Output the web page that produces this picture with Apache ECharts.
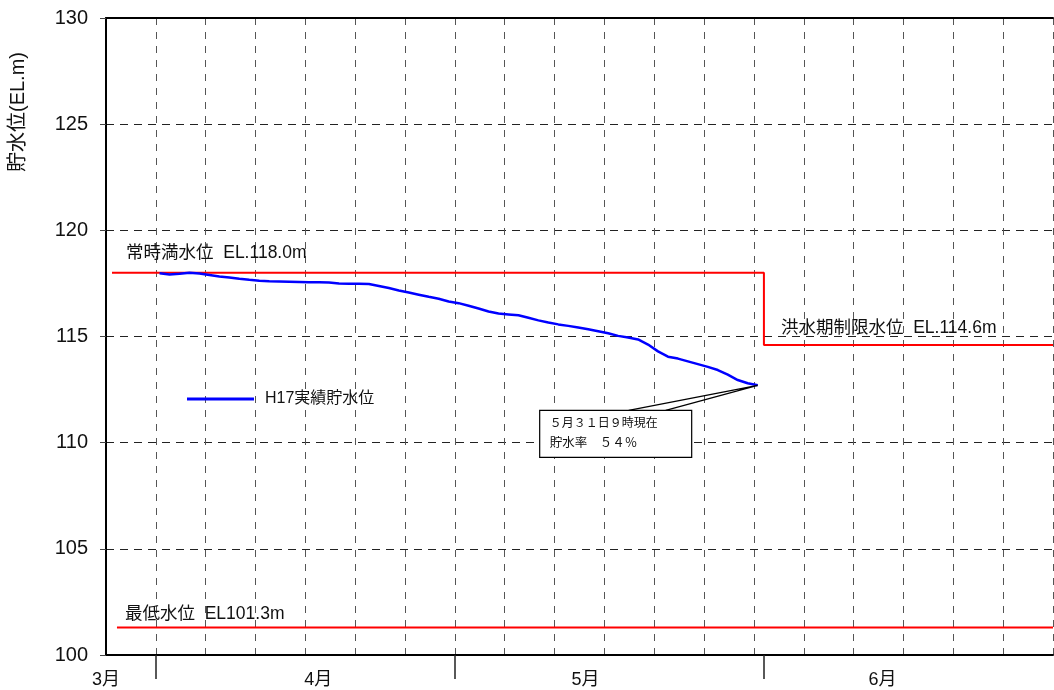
<!DOCTYPE html>
<html><head><meta charset="utf-8">
<script src="https://cdn.jsdelivr.net/npm/echarts@6/dist/echarts.min.js"></script>
<style>html,body{margin:0;padding:0;background:#fff}#c{width:1054px;height:690px}</style>
</head><body><div id="c"></div>
<script>
// x unit: days counted from 27 Mar 00:00 (day 5 = 1 Apr, day 35 = 1 May, day 66 = 1 Jun)
const monthNames = ['3月', '4月', '5月', '6月'];
const monthLabelDays = [0, 21.3, 48.1, 77.9];
const monthStartDays = [5, 35, 66];
const xRange = [0, 95];
const yTicks = [100, 105, 110, 115, 120, 125, 130];

// H17 actual reservoir level, daily at 09:00 from 1 Apr to 31 May
const levelStartDay = 5.375;
const levels = [
  117.98, 117.92, 117.95, 118.00, 117.97, 117.90, 117.83, 117.78, 117.72, 117.67,
  117.63, 117.60, 117.59, 117.58, 117.57, 117.56, 117.55, 117.54, 117.50, 117.49,
  117.48, 117.47, 117.38, 117.28, 117.17, 117.07, 116.97, 116.87, 116.78, 116.65,
  116.57, 116.45, 116.32, 116.18, 116.08, 116.04, 116.00, 115.88, 115.76, 115.66,
  115.57, 115.50, 115.42, 115.34, 115.25, 115.15, 115.03, 114.95, 114.86, 114.62,
  114.30, 114.05, 113.96, 113.83, 113.70, 113.57, 113.42, 113.20, 112.95, 112.80,
  112.70
];

const normalFullLevel = 118.0;
const floodLimitLevel = 114.6;
const minimumLevel = 101.3;
const normalStartDay = 0.6;
const floodStartDay = 66;
const minimumStartDay = 1.1;

const seriesName = 'H17実績貯水位';
const labelNormal = '常時満水位  EL.118.0m';
const labelFlood = '洪水期制限水位  EL.114.6m';
const labelMinimum = '最低水位  EL101.3m';
const noteLine1 = '５月３１日９時現在';
const noteLine2 = '貯水率　５４％';
const yName = '貯水位(EL.m)';

const FONT = '"Liberation Sans", Arial, "Noto Sans CJK JP", sans-serif';
const chart = echarts.init(document.getElementById('c'));

const levelData = levels.map((v, i) => [levelStartDay + i, v]);
const redStep = [[normalStartDay, normalFullLevel], [floodStartDay, normalFullLevel],
                 [floodStartDay, floodLimitLevel], [xRange[1], floodLimitLevel]];
const redMin = [[minimumStartDay, minimumLevel], [xRange[1], minimumLevel]];

chart.setOption({
  animation: false,
  backgroundColor: '#fff',
  textStyle: {fontFamily: FONT},
  grid: {left: 106, top: 18, width: 947, height: 637, containLabel: false, outerBoundsMode: 'none'},
  legend: {
    data: [seriesName], left: 182, top: 386, icon: 'rect', itemWidth: 67, itemHeight: 3,
    textStyle: {fontSize: 16, color: '#111', fontFamily: FONT, padding: [0, 0, 0, 6]}
  },
  xAxis: [
    {type: 'value', min: xRange[0], max: xRange[1], interval: 5, position: 'bottom',
     axisLine: {show: true, onZero: false, lineStyle: {color: '#000', width: 2}},
     axisTick: {show: false}, axisLabel: {show: false},
     splitLine: {show: true, lineStyle: {color: '#555', width: 1, type: [7, 7]}}},
    {type: 'value', min: xRange[0], max: xRange[1], position: 'bottom',
     axisLine: {show: false}, splitLine: {show: false},
     axisTick: {show: true, customValues: monthStartDays, length: 24, lineStyle: {color: '#222', width: 1.5}},
     axisLabel: {show: true, customValues: monthLabelDays, margin: 16, fontSize: 18, color: '#111', fontFamily: FONT,
       formatter: v => {
         let best = 0;
         monthLabelDays.forEach((d, i) => { if (Math.abs(d - v) < Math.abs(monthLabelDays[best] - v)) best = i; });
         return monthNames[best];
       }}},
    {type: 'value', min: xRange[0], max: xRange[1], position: 'top',
     axisLine: {show: true, onZero: false, lineStyle: {color: '#000', width: 2}},
     axisTick: {show: false}, axisLabel: {show: false}, splitLine: {show: false}}
  ],
  yAxis: {
    type: 'value', min: yTicks[0], max: yTicks[yTicks.length - 1], interval: yTicks[1] - yTicks[0],
    axisLine: {show: true, onZero: false, lineStyle: {color: '#000', width: 2}},
    axisTick: {show: true, length: 6, lineStyle: {color: '#444'}},
    axisLabel: {fontSize: 20, color: '#111', margin: 18, fontFamily: FONT},
    splitLine: {show: true, lineStyle: {color: '#222', width: 1, type: [8, 6]}}
  },
  series: [
    {name: 'normal', type: 'line', xAxisIndex: 0, data: redStep, showSymbol: false, silent: true,
     lineStyle: {color: '#ff0000', width: 2}, z: 3},
    {name: 'minimum', type: 'line', xAxisIndex: 0, data: redMin, showSymbol: false, silent: true,
     lineStyle: {color: '#ff0000', width: 2}, z: 3},
    {name: seriesName, type: 'line', xAxisIndex: 0, data: levelData, showSymbol: false,
     itemStyle: {color: '#0000ff'}, lineStyle: {color: '#0000ff', width: 2.5}, z: 4}
  ]
});

const px = p => chart.convertToPixel({xAxisIndex: 0, yAxisIndex: 0}, p);
const pNormal = px([normalStartDay, normalFullLevel]);
const pFlood = px([floodStartDay, floodLimitLevel]);
const pMin = px([minimumStartDay, minimumLevel]);
const tip = px(levelData[levelData.length - 1]);
const boxX = tip[0] - 218, boxY = tip[1] + 25;

const txt = (x, y, s, size) => ({
  type: 'text', z: 100, x: x, y: y,
  style: {text: s, fontSize: size, fill: '#111', fontFamily: FONT, align: 'left', verticalAlign: 'middle'}
});

chart.setOption({
  graphic: [
    {type: 'text', z: 100, x: 18, y: 112, rotation: Math.PI / 2,
     style: {text: yName, fontSize: 20, fill: '#111', fontFamily: FONT, align: 'center', verticalAlign: 'middle'}},
    txt(pNormal[0] + 14, pNormal[1] - 20, labelNormal, 17.5),
    txt(pFlood[0] + 17, pFlood[1] - 17, labelFlood, 17.5),
    txt(pMin[0] + 8, pMin[1] - 13, labelMinimum, 17.5),
    {type: 'polyline', z: 100,
     shape: {points: [[tip[0] - 129, boxY], [tip[0], tip[1]], [tip[0] - 92, boxY]]},
     style: {stroke: '#000', lineWidth: 1.2, fill: null}},
    {type: 'rect', z: 101, shape: {x: boxX, y: boxY, width: 152, height: 47},
     style: {fill: '#fff', stroke: '#000', lineWidth: 1.2}},
    {type: 'text', z: 102, x: boxX + 10, y: boxY + 12,
     style: {text: noteLine1, fontSize: 12, fill: '#111', fontFamily: '"Noto Sans CJK JP", sans-serif', verticalAlign: 'middle'}},
    {type: 'text', z: 102, x: boxX + 10, y: boxY + 32,
     style: {text: noteLine2, fontSize: 12.5, fill: '#111', fontFamily: '"Noto Sans CJK JP", sans-serif', verticalAlign: 'middle'}}
  ]
});
</script></body></html>
